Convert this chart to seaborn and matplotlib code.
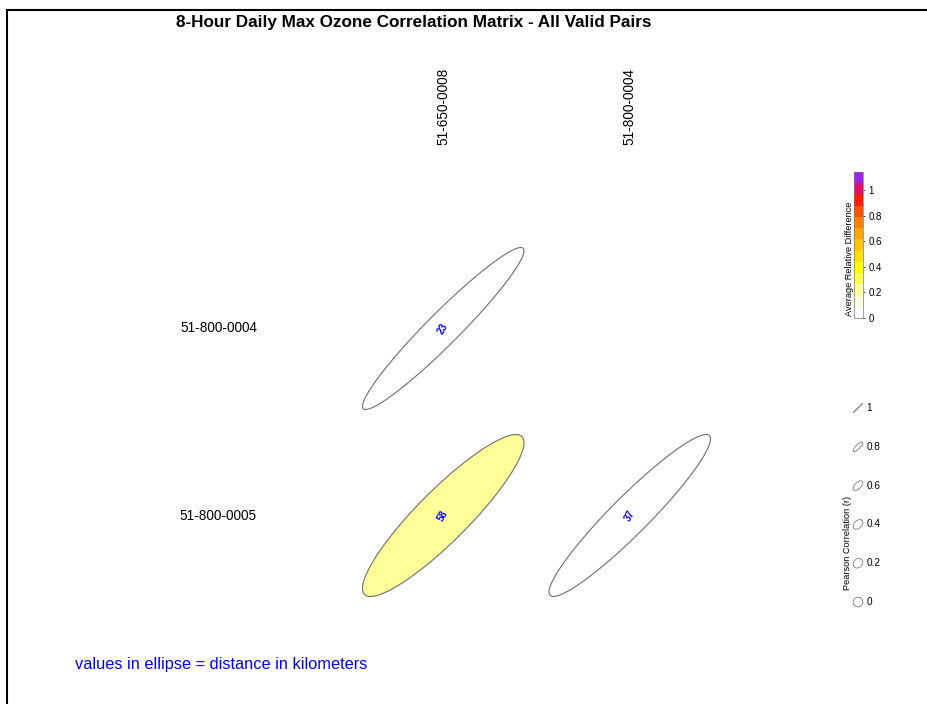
import numpy as np
import pandas as pd
import matplotlib
matplotlib.use("Agg")
import matplotlib.pyplot as plt
from matplotlib.colors import ListedColormap
from matplotlib.patches import Polygon, Rectangle
from matplotlib.ticker import FormatStrFormatter
import seaborn as sns

# ---- data -------------------------------------------------------------
row_sites = ["51-800-0004", "51-800-0005"]
col_sites = ["51-650-0008", "51-800-0004"]

# Pearson r for each site pair (NaN = pair not shown)
pearson_r = [[0.96, np.nan],
             [0.90, 0.945]]

# average relative difference, drives the fill colour
avg_rel_diff = [[0.05, np.nan],
                [0.20, 0.05]]

# distance between the two monitors, km
distance_km = [[23, None],
               [58, 37]]

legend_r = [1, 0.8, 0.6, 0.4, 0.2, 0]
ard_ticks = [0, 0.2, 0.4, 0.6, 0.8, 1]
ard_max = 1.145
ard_colors = ["#FFFFFF", "#FFFFE0", "#FFFF99", "#FFFF4D", "#FFFF00",
              "#FFE000", "#FFC400", "#FFA500", "#FF7F00", "#FF5000",
              "#FF1A00", "#E0106F", "#A020F0"]

title = "8-Hour Daily Max Ozone Correlation Matrix - All Valid Pairs"
note = "values in ellipse = distance in kilometers"

# ---- figure -----------------------------------------------------------
sns.set_theme(style="white")
plt.rcParams["font.family"] = ["Liberation Sans", "DejaVu Sans"]
plt.rcParams["text.color"] = "black"

W, H = 928, 704
fig = plt.figure(figsize=(W / 100, H / 100), dpi=100)


def fx(px):
    return px / W


def fy(py):
    return 1 - py / H


ax = fig.add_axes([fx(350), fy(609), fx(723) - fx(350), fy(235) - fy(609)])
cax = fig.add_axes([fx(854), fy(318), fx(863) - fx(854), fy(172) - fy(318)])

df = pd.DataFrame(avg_rel_diff, index=row_sites, columns=col_sites)
cmap = ListedColormap(ard_colors)
sns.heatmap(df, mask=np.ones(df.shape, dtype=bool), cmap=cmap,
            vmin=0, vmax=ard_max, ax=ax, cbar_ax=cax,
            cbar_kws={"ticks": ard_ticks})

# correlation ellipses, one per cell
norm = plt.Normalize(0, ard_max)
t = 0.433
ang = np.linspace(0, 2 * np.pi, 240)
for i in range(len(row_sites)):
    for j in range(len(col_sites)):
        r = pearson_r[i][j]
        if np.isnan(r):
            continue
        d = np.arccos(r)
        xs = j + 0.5 + t * np.cos(ang + d / 2)
        ys = i + 0.5 - t * np.cos(ang - d / 2)
        ax.add_patch(Polygon(np.c_[xs, ys], closed=True,
                             facecolor=cmap(norm(avg_rel_diff[i][j])),
                             edgecolor="#6e6e6e", lw=0.8))
        ax.text(j + 0.5, i + 0.5, str(distance_km[i][j]), color="#0000FF",
                fontsize=7, fontweight="bold", rotation=60, ha="center",
                va="center", rotation_mode="anchor")

ax.xaxis.tick_top()
ax.set_xticklabels(col_sites, rotation=90, fontsize=9.8, color="black")
ax.set_yticklabels(row_sites, rotation=0, fontsize=9.8, color="black")
ax.tick_params(axis="x", top=False, bottom=False, labeltop=True,
               labelbottom=False, length=0, pad=64.8)
ax.tick_params(axis="y", left=False, length=0, pad=67)
ax.set_xlabel("")
ax.set_ylabel("")

# colour bar styling
cb = ax.collections[0].colorbar
cb.outline.set_linewidth(0.5)
cb.outline.set_edgecolor("#777777")
cax.yaxis.set_major_formatter(FormatStrFormatter("%g"))
cax.tick_params(labelsize=7, length=1.5, width=0.5, pad=2.5, colors="black")
fig.text(fx(850), fy(259), "Average Relative Difference", rotation=90,
         fontsize=6.6, ha="center", va="center")

# Pearson r legend
lax = fig.add_axes([fx(840), fy(620), fx(900) - fx(840), fy(395) - fy(620)])
lax.set_xlim(840, 900)
lax.set_ylim(620, 395)
lax.axis("off")
leg_y = np.linspace(408, 602, len(legend_r))
tl = 4.8
for r, y0 in zip(legend_r, leg_y):
    d = np.arccos(r)
    xs = 858 + tl * np.cos(ang + d / 2)
    ys = y0 - tl * np.cos(ang - d / 2)
    lax.add_patch(Polygon(np.c_[xs, ys], closed=True, fill=False,
                          edgecolor="#7a7a7a", lw=0.6))
    lax.text(866.5, y0, f"{r:g}", fontsize=7.2, ha="left", va="center")
fig.text(fx(848), fy(543), "Pearson Correlation (r)", rotation=90,
         fontsize=6.6, ha="center", va="center")

# title, note and frame
fig.text(fx(414), fy(22), title, ha="center", va="center",
         fontsize=12.3, fontweight="bold", color="black")
fig.text(fx(75), fy(664), note, ha="left", va="center",
         fontsize=11.8, color="#0000FF")
fig.add_artist(Rectangle((fx(7), -0.1), 1.2, fy(10) + 0.1,
                         transform=fig.transFigure, fill=False,
                         lw=1.5, edgecolor="black"))

fig.savefig("out.png", dpi=100)
